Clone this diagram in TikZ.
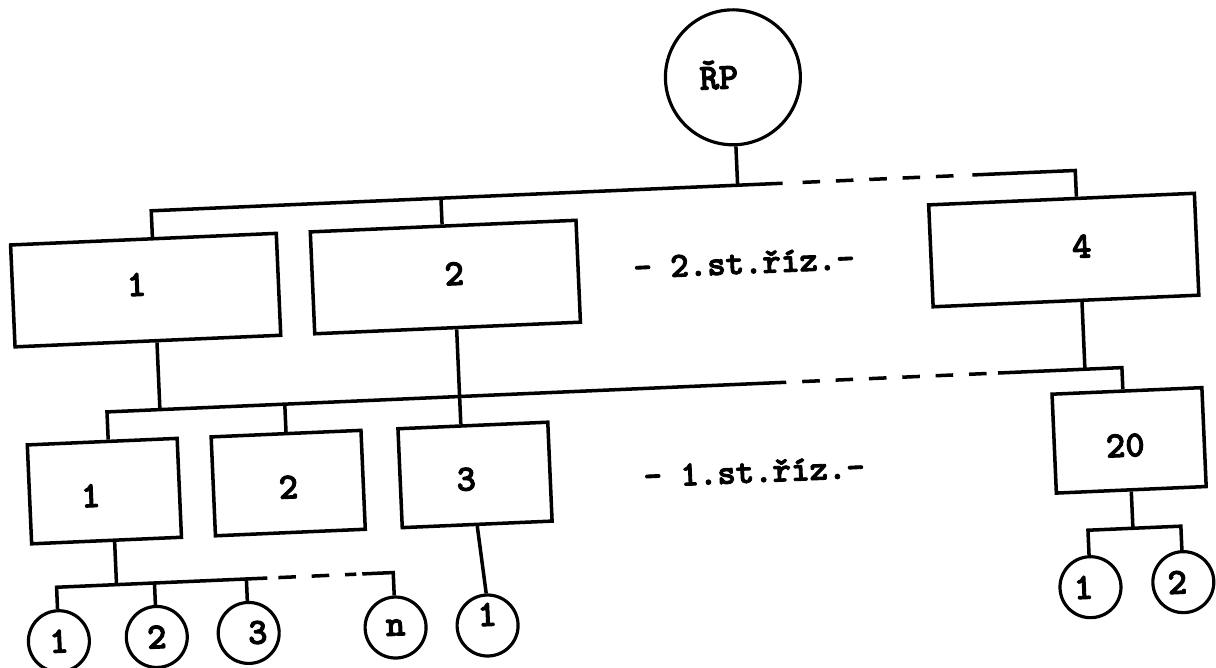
\documentclass[tikz,border=0pt]{standalone}
\usepackage{fontspec}
\newfontfamily\typewriter[FakeBold=2.5]{lmmonolt10-bold.otf}
\begin{document}
\begin{tikzpicture}[x=0.02cm,y=0.02cm,
  bigbox/.style={draw, rectangle, line width=2pt, minimum width=5.32cm, minimum height=2.04cm, inner sep=0pt},
  smallbox/.style={draw, rectangle, line width=2pt, minimum width=3.0cm, minimum height=1.98cm, inner sep=0pt},
  leaf/.style={draw, circle, line width=1.8pt, minimum size=1.22cm, inner sep=0pt},
  root/.style={draw, circle, line width=1.8pt, minimum size=2.7cm, inner sep=0pt},
  num/.style={font=\typewriter\fontsize{21}{21}\selectfont, inner sep=0pt},
  levellabel/.style={font=\typewriter\fontsize{20}{20}\selectfont, inner sep=0pt},
  link/.style={line width=2pt},
  dashedlink/.style={line width=2pt, dash pattern=on 10pt off 9pt},
]
\useasboundingbox (-608,-334) rectangle (608,334);
\clip (-608,-334) rectangle (608,334);
\begin{scope}[rotate=2.5, transform shape]

% head of the organisation
\node[root, label={[num, xshift=-0.28cm, yshift=0.06cm]center:ŘP}] (rp) at (136,251) {};

% second management level
\node[bigbox, label={[num, xshift=-0.18cm, yshift=0.12cm]center:1}] (a1) at (-460,64) {};
\node[bigbox, label={[num, xshift=0.18cm, yshift=0.06cm]center:2}] (a2) at (-160,64) {};
\node[bigbox, label={[num, xshift=0.36cm, yshift=0.06cm]center:4}] (a4) at (459,64) {};
\node[levellabel] (lv2) at (139,65) {- 2.st.říz.-};

% first management level
\node[smallbox, label={[num, xshift=-0.28cm, yshift=-0.08cm]center:1}] (b1) at (-510,-135) {};
\node[smallbox, label={[num, yshift=-0.08cm]center:2}] (b2) at (-326,-135) {};
\node[smallbox, label={[num, xshift=-0.18cm, yshift=-0.08cm]center:3}] (b3) at (-139,-135) {};
\node[smallbox, label={[num, xshift=-0.08cm, yshift=-0.1cm]center:20}] (b20) at (516,-129) {};
\node[levellabel] (lv1) at (140,-144) {- 1.st.říz.-};

% units
\node[leaf, label={[num]center:1}] (c1) at (-562,-283) {};
\node[leaf, label={[num]center:2}] (c2) at (-464,-283) {};
\node[leaf, label={[num, xshift=0.18cm]center:3}] (c3) at (-372,-283) {};
\node[leaf, label={[num]center:n}] (cn) at (-225,-284) {};
\node[leaf, label={[num, yshift=0.22cm]center:1}] (d1) at (-133,-286) {};
\node[leaf, label={[num, xshift=-0.14cm]center:1}] (e1) at (471,-274) {};
\node[leaf, label={[num, xshift=-0.12cm]center:2}] (e2) at (564,-273) {};

% upper bus
\coordinate (t1) at (-451,143);
\coordinate (t2) at (-161,143);
\coordinate (t3) at (181,143);
\coordinate (t4) at (201,143);
\coordinate (t5) at (363,143);
\coordinate (t6) at (371,143);
\coordinate (t7) at (474,143);
\draw[link] (rp.south) -- (rp.south |- t1);
\draw[link] (t1 |- a1.north) -- (t1) -- (t3);
\draw[link] (t2) -- (t2 |- a2.north);
\draw[dashedlink] (t4) -- (t5);
\draw[link] (t6) -- (t7) -- (t7 |- a4.north);

% lower bus
\coordinate (m0) at (-504,-56);
\coordinate (m1) at (-451,-56);
\coordinate (m2) at (-151,-56);
\coordinate (m3) at (176,-56);
\coordinate (m4) at (192,-56);
\coordinate (m5) at (378,-56);
\coordinate (m6) at (388,-56);
\coordinate (m7) at (475,-56);
\coordinate (m8) at (512,-56);
\draw[link] (m0 |- b1.north) -- (m0) -- (m3);
\draw[link] (m1 |- a1.south) -- (m1);
\draw[link] (b2.north) -- (b2.north |- m0);
\draw[link] (m2 |- a2.south) -- (m2 |- b3.north);
\draw[dashedlink] (m4) -- (m5);
\draw[link] (m6) -- (m8) -- (m8 |- b20.north);
\draw[link] (m7 |- a4.south) -- (m7);

% units below box 1
\coordinate (k1) at (-502,-229);
\coordinate (k2) at (-351,-229);
\coordinate (k3) at (-340,-229);
\coordinate (k4) at (-262,-229);
\coordinate (k5) at (-256,-229);
\draw[link] (c1.north) -- (c1.north |- k1) -- (k2);
\draw[link] (k1 |- b1.south) -- (k1);
\draw[link] (c2.north) -- (c2.north |- k1);
\draw[link] (c3.north) -- (c3.north |- k1);
\draw[dashedlink] (k3) -- (k4);
\draw[link] (k5) -- (cn.north |- k1) -- (cn.north);

% unit below box 3
\draw[link] (b3.south) -- (d1.north);

% units below box 20
\coordinate (q1) at (516,-217);
\draw[link] (b20.south) -- (b20.south |- q1);
\draw[link] (e1.north) -- (e1.north |- q1) -- (e2.north |- q1) -- (e2.north);

\end{scope}
\end{tikzpicture}
\end{document}
